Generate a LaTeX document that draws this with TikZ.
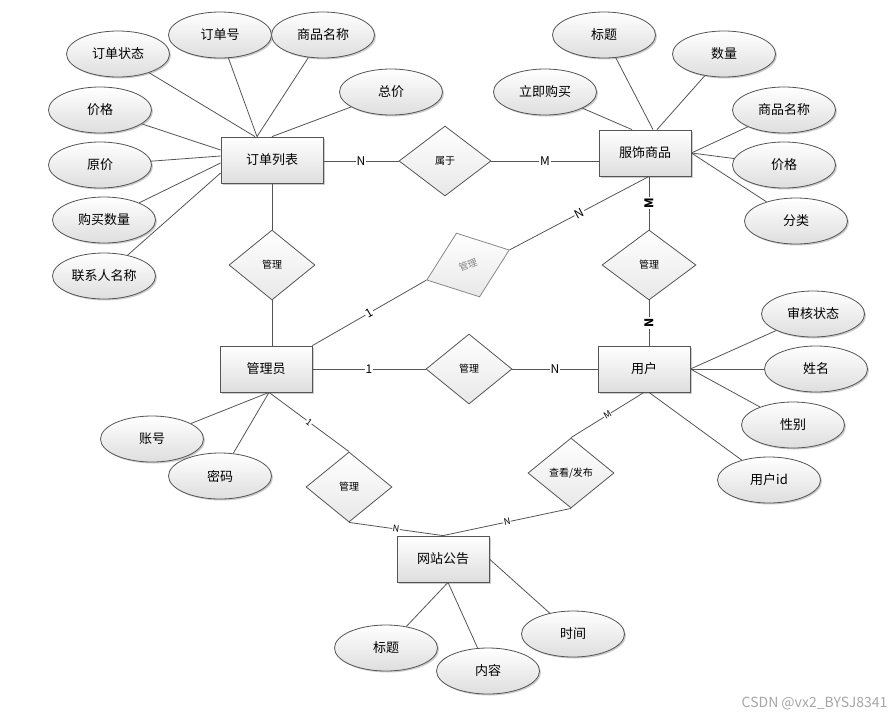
\documentclass[tikz,border=0pt]{standalone}
\usepackage{fontspec}
\setmainfont{Noto Sans CJK SC}
\usepackage{xcolor}
\usepackage{tikz}
\usetikzlibrary{shapes.geometric, shadows, calc}
\definecolor{linegray}{RGB}{85,85,85}
\definecolor{shadegray}{RGB}{222,222,222}
\definecolor{ghost}{RGB}{135,135,135}
\tikzset{
    entity/.style={rectangle, draw=linegray, line width=0.8pt, top color=white, bottom color=shadegray, minimum width=92pt, minimum height=46pt, text centered, font=\fontsize{13}{15}\selectfont, drop shadow={shadow xshift=1.5pt, shadow yshift=-1.5pt, fill=black, opacity=0.2}},
    attr/.style={ellipse, draw=linegray, line width=0.8pt, top color=white, bottom color=shadegray, minimum width=103pt, minimum height=46pt, inner sep=0pt, text centered, font=\fontsize{13}{15}\selectfont, drop shadow={shadow xshift=1.5pt, shadow yshift=-1.5pt, fill=black, opacity=0.2}},
    rel/.style={diamond, draw=linegray, line width=0.8pt, top color=white, bottom color=shadegray!70, minimum width=86pt, minimum height=70pt, aspect=1.23, inner sep=1pt, text centered, font=\fontsize{10}{12}\selectfont},
    link/.style={draw=linegray, line width=0.8pt},
    card/.style={fill=white, inner sep=1pt, font=\fontsize{12}{14}\selectfont},
    smallcard/.style={fill=white, inner sep=0.5pt, font=\fontsize{9}{10}\selectfont}
}
\begin{document}
\begin{tikzpicture}[x=1pt, y=-1pt]
    \useasboundingbox (0,0) rectangle (894,718);

    % Entities
    \node[entity, minimum width=102pt] (ord) at (272,160) {订单列表};
    \node[entity] (goods) at (645,153) {服饰商品};
    \node[entity] (admin) at (266,369) {管理员};
    \node[entity] (user) at (644,369) {用户};
    \node[entity] (notice) at (443,559) {网站公告};

    % Relations
    \node[rel, minimum width=92pt] (belong) at (445,161) {属于};
    \node[rel] (mgrOrd) at (272,265) {管理};
    \node[rel, minimum width=88pt, minimum height=68pt, rotate=20, draw=ghost, text=ghost, font=\fontsize{9.5}{11}\selectfont] (mgrGoods) at (468,265) {管理};
    \node[rel, minimum width=94pt] (mgrUser) at (649,265) {管理};
    \node[rel] (mgrAU) at (469,369) {管理};
    \node[rel] (mgrNotice) at (349,487) {管理};
    \node[rel] (view) at (571,473) {查看/发布};

    % Attributes of 订单列表
    \node[attr] (oStatus) at (118,54) {订单状态};
    \node[attr] (oNo) at (220,35) {订单号};
    \node[attr] (oName) at (323,35) {商品名称};
    \node[attr] (oTotal) at (391,92) {总价};
    \node[attr] (oPrice) at (100,110) {价格};
    \node[attr] (oOrig) at (100,165) {原价};
    \node[attr] (oQty) at (104,220) {购买数量};
    \node[attr] (oContact) at (104,276) {联系人名称};

    % Attributes of 服饰商品
    \node[attr] (gTitle) at (604,35) {标题};
    \node[attr] (gQty) at (724,54) {数量};
    \node[attr] (gBuy) at (545,92) {立即购买};
    \node[attr] (gName) at (784,110) {商品名称};
    \node[attr] (gPrice) at (784,165) {价格};
    \node[attr] (gType) at (796,221) {分类};

    % Attributes of 用户
    \node[attr] (uAudit) at (813,314) {审核状态};
    \node[attr] (uName) at (816,369) {姓名};
    \node[attr] (uSex) at (793,425) {性别};
    \node[attr] (uId) at (769,480) {用户id};

    % Attributes of 管理员
    \node[attr] (aAcc) at (152,439) {账号};
    \node[attr] (aPwd) at (220,476) {密码};

    % Attributes of 网站公告
    \node[attr] (nTitle) at (386,648) {标题};
    \node[attr] (nContent) at (488,671) {内容};
    \node[attr] (nTime) at (573,634) {时间};

    % Meeting points on the entity borders
    \coordinate (ordTop) at ($(ord.north)+(-15,0)$);
    \coordinate (goodsFoot) at ($(goods.south)+(4,0)$);
    \coordinate (adminFoot) at ($(admin.south)+(3,0)$);
    \coordinate (userFoot) at ($(user.south)+(5,0)$);
    \coordinate (noticeFoot) at ($(notice.south)+(5,0)$);

    % Attribute links
    \draw[link] (oStatus) -- ($(ord.north)+(-17,0)$);
    \draw[link] (oNo) -- (ordTop);
    \draw[link] (oName) -- (ordTop);
    \draw[link] (oTotal) -- (ord.north);
    \draw[link] (oPrice) -- ($(ord.west)+(0,-10)$);
    \draw[link] (oOrig) -- ($(ord.west)+(0,-4)$);
    \draw[link] (oQty) -- ($(ord.west)+(0,3)$);
    \draw[link] (oContact) -- ($(ord.west)+(0,13)$);

    \draw[link] (gBuy) -- ($(goods.north)+(-13,0)$);
    \draw[link] (gTitle) -- ($(goods.north)+(8,0)$);
    \draw[link] (gQty) -- ($(goods.north)+(12,0)$);
    \draw[link] (gName) -- (goods.east);
    \draw[link] (gPrice) -- (goods.east);
    \draw[link] (gType) -- (goods.east);

    \draw[link] (uAudit) -- (user.east);
    \draw[link] (uName) -- (user.east);
    \draw[link] (uSex) -- (user.east);
    \draw[link] (uId) -- (userFoot);

    \draw[link] (aAcc) -- (adminFoot);
    \draw[link] (aPwd) -- (adminFoot);

    \draw[link] (nTitle) -- (noticeFoot);
    \draw[link] (nContent) -- (noticeFoot);
    \draw[link] (nTime) -- (notice.east);

    % Relation links
    \draw[link] (belong.west -| ord.east) -- node[card] {N} (belong.west);
    \draw[link] (belong.east) -- node[card] {M} (belong.east -| goods.west);
    \draw[link] (ord.south) -- (mgrOrd.north);
    \draw[link] (mgrOrd.south) -- (mgrOrd.south |- admin.north);
    \draw[link] (goodsFoot) -- node[card, rotate=90, font=\fontsize{12}{14}\selectfont\bfseries] {M} (mgrUser.north);
    \draw[link] (mgrUser.south) -- node[card, rotate=90, font=\fontsize{12}{14}\selectfont\bfseries] {N} (mgrUser.south |- user.north);
    \draw[link] (admin.north east) -- node[card, sloped] {1} (mgrGoods.west);
    \draw[link] (mgrGoods.east) -- node[card, sloped] {N} (goodsFoot);
    \draw[link] (admin.east) -- node[card] {1} (mgrAU.west);
    \draw[link] (mgrAU.east) -- node[card] {N} (user.west);
    \draw[link] (adminFoot) -- node[smallcard, sloped] {1} (mgrNotice.north);
    \draw[link] (mgrNotice.south) -- node[smallcard, sloped] {N} (notice.north);
    \draw[link] (view.south) -- node[smallcard, sloped] {N} (notice.north);
    \draw[link] (user.south) -- node[smallcard, sloped] {M} (view.north);

    % Watermark
    \node[anchor=east, text=gray!70, font=\fontsize{14}{16}\selectfont] (mark) at (891,703) {CSDN @vx2\_BYSJ8341};
\end{tikzpicture}
\end{document}
